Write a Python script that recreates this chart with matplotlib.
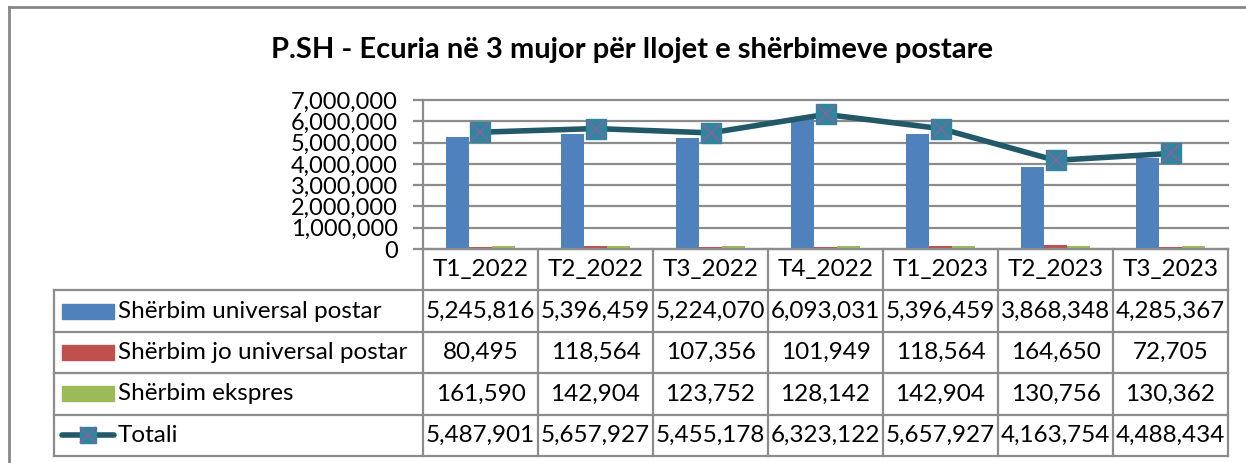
import matplotlib
matplotlib.use("Agg")
import matplotlib.pyplot as plt
from matplotlib.patches import Rectangle
from matplotlib.lines import Line2D

plt.rcParams['font.family'] = ['Lato', 'DejaVu Sans']

# ---------------- data ----------------
categories = ["T1_2022", "T2_2022", "T3_2022", "T4_2022", "T1_2023", "T2_2023", "T3_2023"]
series_names = ["Shërbim universal postar", "Shërbim jo universal postar", "Shërbim ekspres", "Totali"]
universal = [5245816, 5396459, 5224070, 6093031, 5396459, 3868348, 4285367]
jo_universal = [80495, 118564, 107356, 101949, 118564, 164650, 72705]
ekspres = [161590, 142904, 123752, 128142, 142904, 130756, 130362]
totali = [5487901, 5657927, 5455178, 6323122, 5657927, 4163754, 4488434]
yticks = [0, 1000000, 2000000, 3000000, 4000000, 5000000, 6000000, 7000000]
title = "P.SH - Ecuria në 3 mujor për llojet e shërbimeve postare"

# ---------------- styling ----------------
BLUE, RED, GREEN = "#4F81BD", "#C0504D", "#9BBB59"
LINE_C, MARK_C, X_C = "#215968", "#31859C", "#8064A2"
GRID = "#8C8C8C"
W, H = 1246, 463

def fx(px):
    return px / W

def fy(py):
    return 1 - py / H

fig = plt.figure(figsize=(W / 100, H / 100), dpi=100)

# plot area
AX_L, AX_R, AX_T, AX_B = 423, 1228, 100, 249
ax = fig.add_axes([fx(AX_L), fy(AX_B), (AX_R - AX_L) / W, (AX_B - AX_T) / H])
n = len(categories)
x = list(range(n))
bw = 0.2
ax.bar([i - bw for i in x], universal, bw, color=BLUE, zorder=2)
ax.bar(x, jo_universal, bw, color=RED, zorder=2)
ax.bar([i + bw for i in x], ekspres, bw, color=GREEN, zorder=2)
ax.plot(x, totali, color=LINE_C, lw=4, zorder=4, solid_capstyle='round')
ax.plot(x, totali, ls='none', marker='s', ms=14, mfc=MARK_C, mec=MARK_C, zorder=5)
ax.plot(x, totali, ls='none', marker='x', ms=13, mec=X_C, mew=1.3, zorder=6)

ax.set_xlim(-0.5, n - 0.5)
ax.set_ylim(0, 7000000)
ax.set_yticks(yticks)
ax.set_yticklabels([f"{v:,}" for v in yticks])
ax.set_xticks([])
ax.yaxis.grid(True, color=GRID, lw=1.6)
for gl in ax.get_ygridlines():
    gl.set_clip_on(False)
ax.set_axisbelow(True)
for s in ["top", "right", "bottom"]:
    ax.spines[s].set_visible(False)
ax.spines["left"].set_color(GRID)
ax.spines["left"].set_linewidth(1.6)
ax.tick_params(axis='y', length=7, width=1.6, color=GRID, labelsize=17, pad=11)
ax.set_facecolor('none')

# data table
TB_L, TB_B = 54, 456
col_w = (AX_R - AX_L) / n
xl = -0.5 - (AX_L - TB_L) / col_w
tax = fig.add_axes([fx(TB_L), fy(TB_B), (AX_R - TB_L) / W, (TB_B - AX_B) / H])
tax.set_xlim(xl, n - 0.5)
tax.set_ylim(5, 0)
tax.axis('off')
lk = dict(color=GRID, lw=1.6, clip_on=False, solid_capstyle='projecting')
for i in range(n + 1):
    tax.plot([i - 0.5, i - 0.5], [0, 5], **lk)
tax.plot([xl, xl], [1, 5], **lk)
tax.plot([-0.5, n - 0.5], [0, 0], **lk)
for r in range(1, 6):
    tax.plot([xl, n - 0.5], [r, r], **lk)

fs = 17.5
for i, c in enumerate(categories):
    tax.text(i, 0.5, c, ha='center', va='center', fontsize=fs)
rows = [universal, jo_universal, ekspres, totali]
for r, vals in enumerate(rows):
    for i, v in enumerate(vals):
        tax.text(i, r + 1.5, f"{v:,}", ha='center', va='center', fontsize=fs)

# legend keys in table
row_h = (TB_B - AX_B) / 5
def px2x(px):
    return xl + (px - TB_L) / col_w
key_colors = [BLUE, RED, GREEN]
for r, name in enumerate(series_names):
    yc = r + 1.5
    if r < 3:
        kh = 15 / row_h
        tax.add_patch(Rectangle((px2x(62), yc - kh / 2), px2x(114) - px2x(62), kh,
                                color=key_colors[r], clip_on=False))
    else:
        tax.plot([px2x(62), px2x(114)], [yc, yc], color=LINE_C, lw=4,
                 solid_capstyle='round', clip_on=False)
        tax.plot([px2x(88)], [yc], marker='s', ms=12, mfc=MARK_C, mec=MARK_C, clip_on=False)
        tax.plot([px2x(88)], [yc], marker='x', ms=11, mec=X_C, mew=1.2, clip_on=False)
    tax.text(px2x(118), yc, name, ha='left', va='center', fontsize=fs)

# outer frame
fig.add_artist(Line2D([fx(9), fx(9)], [fy(7), 0], transform=fig.transFigure, color="#878787", lw=2))
fig.add_artist(Line2D([fx(9), 1], [fy(7), fy(7)], transform=fig.transFigure, color="#878787", lw=2))

fig.text(fx(632), fy(50), title, ha='center', va='center', fontsize=21, fontweight='bold')

fig.savefig("out.png", dpi=100, facecolor='white')
